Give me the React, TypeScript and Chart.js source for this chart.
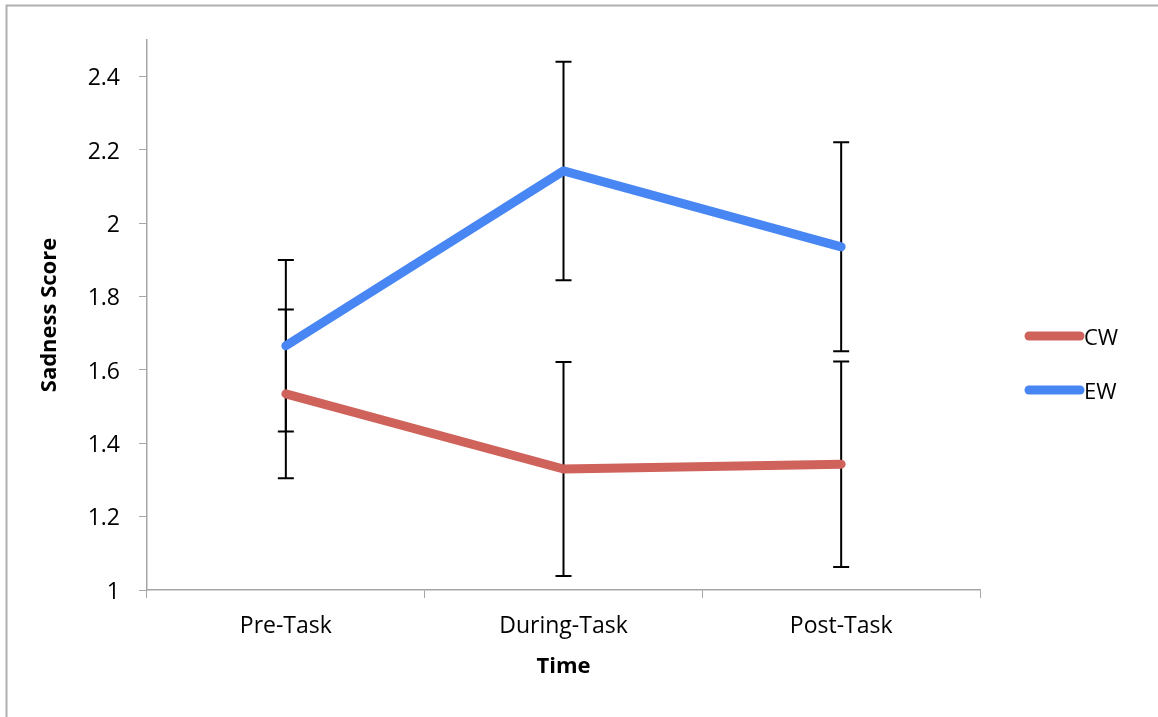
import React, { useEffect, useRef } from "react";
import { Chart, registerables } from "chart.js";

Chart.register(...registerables);

const categories = ["Pre-Task", "During-Task", "Post-Task"];
const seriesNames = ["CW", "EW"];
const cwValues = [1.535, 1.33, 1.343];
const ewValues = [1.666, 2.143, 1.936];
const cwErrors = [0.23, 0.292, 0.28];
const ewErrors = [0.234, 0.298, 0.285];
const yTickValues = [1, 1.2, 1.4, 1.6, 1.8, 2, 2.2, 2.4];

const CW_COLOR = "#cf625a";
const EW_COLOR = "#4886f4";
const AXIS_COLOR = "#a6a6a6";
const FONT = "'Open Sans', Lato, sans-serif";

const errorBarPlugin = {
  id: "errorBars",
  beforeDatasetsDraw(chart: any) {
    const { ctx } = chart;
    const x = chart.scales.x;
    const y = chart.scales.y;
    const sets = [
      { vals: cwValues, errs: cwErrors },
      { vals: ewValues, errs: ewErrors },
    ];
    ctx.save();
    ctx.strokeStyle = "#000";
    ctx.lineWidth = 2;
    sets.forEach((s) => {
      s.vals.forEach((v, i) => {
        const px = x.getPixelForValue(i);
        const top = y.getPixelForValue(v + s.errs[i]);
        const bot = y.getPixelForValue(v - s.errs[i]);
        ctx.beginPath();
        ctx.moveTo(px, top);
        ctx.lineTo(px, bot);
        ctx.moveTo(px - 8, top);
        ctx.lineTo(px + 8, top);
        ctx.moveTo(px - 8, bot);
        ctx.lineTo(px + 8, bot);
        ctx.stroke();
      });
    });
    ctx.restore();
  },
};

const framePlugin = {
  id: "frame",
  beforeDraw(chart: any) {
    const { ctx, width, height } = chart;
    ctx.save();
    ctx.fillStyle = "#fff";
    ctx.fillRect(0, 0, width, height);
    ctx.strokeStyle = "#b0b0b0";
    ctx.lineWidth = 2;
    ctx.beginPath();
    ctx.moveTo(6.5, height);
    ctx.lineTo(6.5, 5.5);
    ctx.lineTo(width, 5.5);
    ctx.stroke();
    ctx.restore();
  },
};

const legendPlugin = {
  id: "customLegend",
  afterDraw(chart: any) {
    const { ctx } = chart;
    const rows = [
      { y: 336, color: CW_COLOR },
      { y: 390, color: EW_COLOR },
    ];
    ctx.save();
    rows.forEach((r, i) => {
      ctx.strokeStyle = r.color;
      ctx.lineWidth = 9;
      ctx.lineCap = "round";
      ctx.beginPath();
      ctx.moveTo(1029, r.y);
      ctx.lineTo(1080, r.y);
      ctx.stroke();
      ctx.fillStyle = "#000";
      ctx.font = `22px ${FONT}`;
      ctx.textBaseline = "middle";
      ctx.textAlign = "left";
      ctx.fillText(seriesNames[i], 1084, r.y + 3);
    });
    ctx.restore();
  },
};

export default function App() {
  const ref = useRef<HTMLCanvasElement>(null);
  useEffect(() => {
    if (!ref.current) return;
    const chart = new Chart(ref.current, {
      type: "line",
      data: {
        labels: categories,
        datasets: [
          {
            label: seriesNames[0],
            data: cwValues,
            borderColor: CW_COLOR,
            backgroundColor: CW_COLOR,
            borderWidth: 9,
            borderCapStyle: "round",
            borderJoinStyle: "round",
            pointRadius: 0,
            tension: 0,
          },
          {
            label: seriesNames[1],
            data: ewValues,
            borderColor: EW_COLOR,
            backgroundColor: EW_COLOR,
            borderWidth: 9,
            borderCapStyle: "round",
            borderJoinStyle: "round",
            pointRadius: 0,
            tension: 0,
          },
        ],
      },
      options: {
        responsive: false,
        animation: false,
        layout: { padding: { top: 40, right: 178, left: 0, bottom: 0 } },
        plugins: { legend: { display: false }, tooltip: { enabled: false } },
        scales: {
          x: {
            type: "category",
            offset: true,
            grid: {
              offset: true,
              drawOnChartArea: false,
              drawTicks: true,
              tickLength: 8,
              color: AXIS_COLOR,
            },
            border: { color: AXIS_COLOR, width: 1.5 },
            ticks: {
              color: "#000",
              font: { family: FONT, size: 23 },
              padding: 15,
              maxRotation: 0,
            },
            title: {
              display: true,
              text: "Time",
              color: "#000",
              font: { family: FONT, size: 22, weight: "bold" },
              padding: { top: 0, bottom: 37 },
            },
            afterFit(scale: any) {
              scale.height = 127;
            },
          },
          y: {
            type: "linear",
            min: 1,
            max: 2.5,
            grid: {
              drawOnChartArea: false,
              drawTicks: true,
              tickLength: 8,
              color: AXIS_COLOR,
            },
            border: { color: AXIS_COLOR, width: 1.5 },
            afterBuildTicks(scale: any) {
              scale.ticks = yTickValues.map((v) => ({ value: v }));
            },
            ticks: {
              color: "#000",
              font: { family: FONT, size: 23 },
              padding: 19,
              labelOffset: 2,
              callback: (v: any) => String(Math.round(Number(v) * 10) / 10),
            },
            title: {
              display: true,
              text: "Sadness Score",
              color: "#000",
              font: { family: FONT, size: 22, weight: "bold" },
              padding: { top: 37, bottom: 0 },
            },
            afterFit(scale: any) {
              scale.width = 147;
            },
          },
        },
      },
      plugins: [framePlugin, errorBarPlugin, legendPlugin],
    });
    return () => chart.destroy();
  }, []);
  return (
    <div style={{ position: "fixed", left: 0, top: 0 }}>
      <canvas ref={ref} width={1158} height={717} style={{ display: "block" }} />
    </div>
  );
}
